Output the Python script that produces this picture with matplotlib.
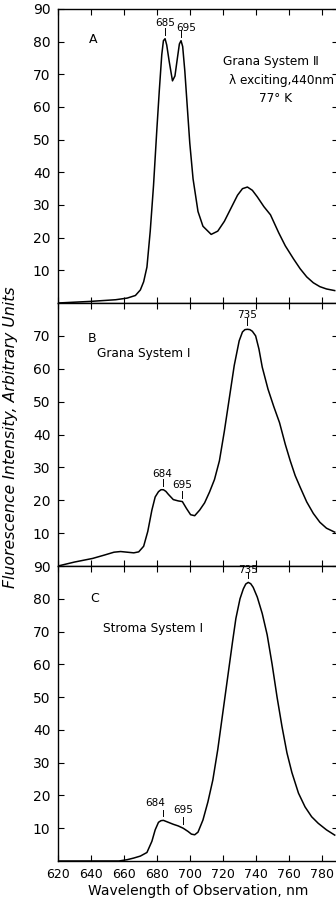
import matplotlib
matplotlib.use('Agg')
from matplotlib import pyplot as plt

# wavelength (nm) / intensity
nm_a = [620, 640, 655, 662, 667, 670, 672, 674, 676, 678, 680, 681.5, 683, 684, 685, 686,
        687.5, 689.5, 691, 692.5, 693.7, 694.7, 695.7, 697, 698.5, 700, 702, 705, 708, 713,
        717, 721, 725, 729, 732, 735, 738, 741, 745, 749, 754, 758, 763, 767, 771, 775,
        779, 783, 788]
val_a = [0, 0.5, 1, 1.5, 2.3, 4, 6.5, 11, 22, 36, 53, 65, 76, 80.3, 80.9, 79,
         74, 68, 69.5, 75, 79.3, 80.3, 78.5, 71, 60, 49, 38, 28, 23.5, 21,
         22, 25, 29, 33, 35, 35.5, 34.5, 32.5, 29.5, 27, 21.5, 17.5, 13.5, 10.5, 8, 6.2,
         5, 4.3, 3.8]

nm_b = [620, 630, 641, 648, 654, 658, 662, 666, 669, 672, 674.5, 677, 679, 681, 682.5, 684,
        685.5, 687, 690, 693, 695.5, 698, 700.5, 703, 706, 709, 712, 715, 718, 721, 724, 727,
        730, 732, 733.5, 735, 736.5, 738, 740, 742, 744, 747.5, 751, 754.5, 758, 761, 764,
        767, 771, 775, 779, 783, 788]
val_b = [0, 1.2, 2.3, 3.3, 4.2, 4.4, 4.2, 4.0, 4.3, 6, 10.5, 17, 21, 22.6, 23.2, 23.2,
         22.7, 21.8, 20.2, 19.8, 19.6, 17.5, 15.6, 15.3, 17, 19.2, 22.5, 26.3, 32, 41, 51, 61,
         68.5, 71.2, 71.9, 72, 71.9, 71.4, 70, 66, 60.5, 53.8, 48.5, 43.6, 37, 32, 27.5,
         24, 19.5, 16, 13.3, 11.5, 10.3]

nm_c = [620, 657, 662, 666, 670, 674, 677, 679, 681, 682.5, 684, 687, 690, 693, 696, 699,
        701, 703, 705, 708, 711, 714, 717, 720, 723, 726, 728, 730.5, 732.5, 734, 735.5, 737,
        738.5, 741, 744, 747, 750, 753, 756, 759, 762, 766, 770, 774, 778, 783, 788]
val_c = [0, 0, 0.4, 0.9, 1.5, 2.6, 6, 9.5, 11.8, 12.3, 12.4, 11.8, 11.2, 10.7, 10, 9,
         8.2, 8, 8.8, 12.5, 18, 24.7, 34, 45, 56, 67, 74, 80, 83, 84.5, 85, 84.6,
         83.5, 80.5, 75.5, 69, 60, 50, 41, 33, 27, 20.7, 16.5, 13.5, 11.5, 9.5, 7.9]

xticks = [620, 640, 660, 680, 700, 720, 740, 760, 780]

# peak labels: (text, peak nm, peak value, text nm, text value)
peaks_a = [('685', 685, 80.9, 685, 84.3), ('695', 694.7, 80.3, 698, 82.6)]
peaks_b = [('735', 735, 72, 735, 74.7), ('684', 683.5, 23.2, 683.5, 26.6), ('695', 695.5, 19.6, 695.5, 23)]
peaks_c = [('735', 735.5, 85, 735.5, 87.3), ('684', 684, 12.4, 679, 16.2), ('695', 696, 10, 696, 14)]

plt.rcParams['font.family'] = 'DejaVu Sans'
fig = plt.figure(figsize=(3.36, 9), dpi=100)

L = 58 / 336
W = (338 - 58) / 336
axA = fig.add_axes([L, 597 / 900, W, 294 / 900])
axB = fig.add_axes([L, 334 / 900, W, 263 / 900])
axC = fig.add_axes([L, 39 / 900, W, 295 / 900])

panels = [(axA, nm_a, val_a, peaks_a, 90, range(10, 100, 10)),
          (axB, nm_b, val_b, peaks_b, 80, range(10, 80, 10)),
          (axC, nm_c, val_c, peaks_c, 90, range(10, 100, 10))]

for ax, x, y, peaks, top, yt in panels:
    ax.plot(x, y, color='black', lw=1.1)
    ax.set_xlim(620, 790)
    ax.set_ylim(0, top)
    ax.set_xticks(xticks)
    ax.set_yticks(list(yt))
    ax.tick_params(direction='in', length=4, width=0.8, top=True, right=True,
                   labelsize=10, pad=5.5)
    ax.tick_params(axis='x', labelsize=9, pad=5)
    for s in ax.spines.values():
        s.set_linewidth(1.0)
    for t, px, pv, tx, tv in peaks:
        ax.plot([px, px], [pv + 1.2, pv + 3.3], color='black', lw=0.7)
        ax.text(tx, tv, t, ha='center', va='bottom', fontsize=7.5)
    if ax is not axC:
        ax.tick_params(axis='x', labelbottom=False)

axA.text(641.5, 80.8, 'A', ha='center', va='center', fontsize=9)
axA.text(749, 73.9, 'Grana System Ⅱ', ha='center', va='center', fontsize=8.7)
axA.text(756, 68, 'λ exciting,440nm', ha='center', va='center', fontsize=8.7)
axA.text(752, 62.5, '77° K', ha='center', va='center', fontsize=8.7)

axB.text(640.5, 69.1, 'B', ha='center', va='center', fontsize=9)
axB.text(643.5, 64.5, 'Grana System Ⅰ', ha='left', va='center', fontsize=8.7)

axC.text(642.5, 80, 'C', ha='center', va='center', fontsize=9)
axC.text(647.5, 70.8, 'Stroma System Ⅰ', ha='left', va='center', fontsize=8.7)

axC.set_xlabel('Wavelength of Observation, nm', fontsize=10, labelpad=2.5)
fig.text(0.032, 0.514, 'Fluorescence Intensity, Arbitrary Units', rotation=90,
         style='italic', fontsize=11.3, ha='center', va='center')

plt.savefig('out.png', dpi=100)
